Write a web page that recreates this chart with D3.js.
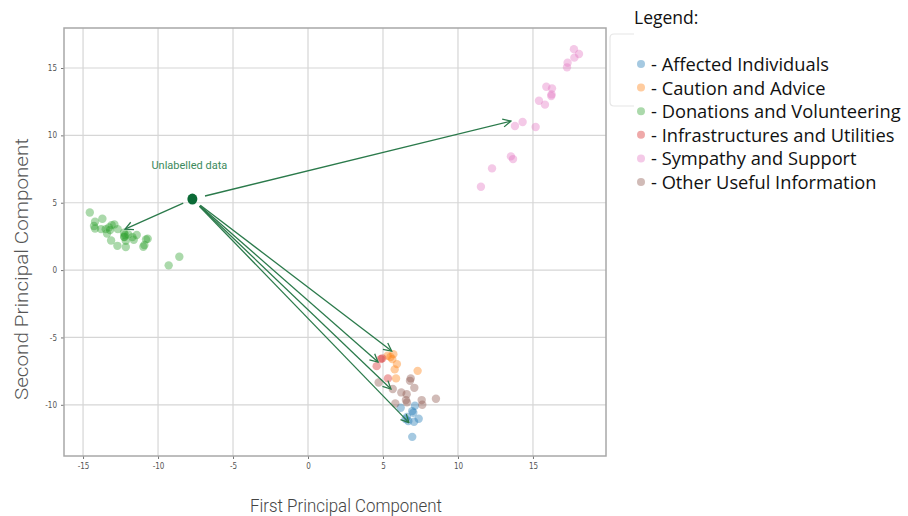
<!DOCTYPE html>
<meta charset="utf-8">
<head>
  <script src="https://d3js.org/d3.v7.min.js"></script>
  <style>
    body { margin: 0; background: #fff; }
  </style>
</head>
<body>
  <div id="my_dataviz"></div>
</body>
<script>
  // categories / legend
  const categories = ["Affected Individuals", "Caution and Advice", "Donations and Volunteering",
    "Infrastructures and Utilities", "Sympathy and Support", "Other Useful Information"];
  const cat_colors = ["#1f77b4", "#ff7f0e", "#2ca02c", "#d62728", "#e377c2", "#8c564b"];

  const x_ticks = [-15, -10, -5, 0, 5, 10, 15];
  const y_ticks = [-10, -5, 0, 5, 10, 15];

  // points per class, [PC1, PC2]
  const affected = [[6.18, -10.22], [7.13, -10.07], [6.95, -10.47], [7.02, -10.59], [6.51, -11.06],
    [6.69, -11.21], [7.38, -11.04], [7.07, -11.26], [6.95, -12.38], [6.6, -10.9]];
  const caution = [[5.31, -6.36], [5.69, -6.24], [5.62, -6.61], [5.93, -6.98], [5.78, -7.37],
    [7.31, -7.48], [5.87, -8.04], [5.5, -6.45]];
  const donations = [[-14.55, 4.28], [-13.71, 3.81], [-14.2, 3.59], [-14.27, 3.27], [-14.2, 3.09],
    [-13.8, 3.04], [-13.49, 3.04], [-13.27, 3.17], [-13.09, 3.34], [-12.91, 3.39], [-13.2, 2.97],
    [-12.69, 3.04], [-13.4, 2.72], [-12.27, 2.77], [-12.25, 2.47], [-11.98, 2.65], [-11.71, 2.45],
    [-11.42, 2.6], [-13.13, 2.2], [-12.15, 2.18], [-11.62, 2.25], [-12.71, 1.8], [-12.15, 1.71],
    [-10.8, 2.28], [-10.69, 2.33], [-10.98, 1.73], [-10.91, 1.86], [-8.58, 0.99], [-9.29, 0.35],
    [-12.2, 2.6], [-12.25, 2.45]];
  const infrastructure = [[4.85, -6.61], [4.58, -7.13], [5.33, -8.04], [4.95, -6.55]];
  const sympathy = [[17.73, 16.4], [18.07, 16.04], [17.76, 15.77], [17.31, 15.39], [17.27, 15.05],
    [15.89, 13.61], [16.27, 13.49], [16.24, 13.04], [16.22, 12.92], [15.4, 12.57], [15.8, 12.28],
    [14.31, 10.99], [13.8, 10.69], [15.18, 10.62], [13.53, 8.44], [13.67, 8.24], [12.27, 7.55],
    [11.53, 6.19]];
  const other_info = [[4.71, -8.34], [5.65, -8.83], [6.85, -8.04], [6.8, -8.22], [7.09, -8.74],
    [6.22, -9.08], [6.58, -9.21], [5.82, -9.9], [6.53, -9.65], [6.6, -9.82], [7.58, -9.65],
    [7.62, -10.0], [8.53, -9.55]];

  const unlabelled = [-7.71, 5.27];
  const arrow_targets = [[-12.2, 3.04], [13.53, 11.06], [5.58, -6.01], [4.67, -6.83], [5.53, -8.83], [6.73, -11.32]];

  const series = [affected, caution, donations, infrastructure, sympathy, other_info];

  const W = 908, H = 516;

  const svg = d3.select("#my_dataviz").append("svg")
    .attr("width", W).attr("height", H)
    .style("font-family", "Roboto, sans-serif");

  const x = d3.scaleLinear().domain([-16.27, 19.87]).range([64, 606]);
  const y = d3.scaleLinear().domain([-13.8, 17.97]).range([456, 28]);

  // grid
  svg.append("g").selectAll("line").data(x_ticks).enter().append("line")
    .attr("x1", d => x(d)).attr("x2", d => x(d)).attr("y1", 28).attr("y2", 456)
    .attr("stroke", "#d6d6d6").attr("stroke-width", 1.2);
  svg.append("g").selectAll("line").data(y_ticks).enter().append("line")
    .attr("y1", d => y(d)).attr("y2", d => y(d)).attr("x1", 64).attr("x2", 606)
    .attr("stroke", "#d6d6d6").attr("stroke-width", 1.2);

  // faint remnant of a box on the right
  svg.append("path")
    .attr("d", "M634,34 L614,34 Q610,34 610,38 L610,102 Q610,106 614,106 L634,106")
    .attr("fill", "none").attr("stroke", "#e6e6e6").attr("stroke-width", 1.2);

  // axes
  const xa = svg.append("g").attr("transform", "translate(0,456)")
    .call(d3.axisBottom(x).tickValues(x_ticks).tickSize(3).tickPadding(4));
  const ya = svg.append("g").attr("transform", "translate(64,0)")
    .call(d3.axisLeft(y).tickValues(y_ticks).tickSize(3).tickPadding(4));
  [xa, ya].forEach(a => {
    a.select(".domain").remove();
    a.selectAll(".tick line").attr("stroke", "#777");
    a.selectAll(".tick text").attr("fill", "#555").style("font-size", "8px")
      .style("font-family", "'DejaVu Sans Condensed', 'Roboto', sans-serif");
  });
  ya.selectAll(".tick text").text(d => d < 0 ? "-" + Math.abs(d) : d);
  xa.selectAll(".tick text").text(d => d < 0 ? "-" + Math.abs(d) : d);

  svg.append("rect").attr("x", 64).attr("y", 28).attr("width", 542).attr("height", 428)
    .attr("fill", "none").attr("stroke", "#a8a8a8").attr("stroke-width", 1.5);

  // scatter
  series.forEach((s, i) => {
    svg.append("g").selectAll("circle").data(s).enter().append("circle")
      .attr("cx", d => x(d[0])).attr("cy", d => y(d[1])).attr("r", 4.2)
      .attr("fill", cat_colors[i]).attr("fill-opacity", 0.4);
  });

  // arrows
  svg.append("defs").append("marker")
    .attr("id", "head").attr("markerUnits", "userSpaceOnUse")
    .attr("viewBox", "0 0 10 10").attr("refX", 9).attr("refY", 5)
    .attr("markerWidth", 10).attr("markerHeight", 10).attr("orient", "auto")
    .append("path").attr("d", "M1,1 L9,5 L1,9").attr("fill", "none")
    .attr("stroke", "#2b7a4b").attr("stroke-width", 1.3);

  const ux = x(unlabelled[0]), uy = y(unlabelled[1]);
  arrow_targets.forEach((t, i) => {
    const tx = x(t[0]), ty = y(t[1]);
    const dx = tx - ux, dy = ty - uy, len = Math.hypot(dx, dy);
    const gap = i == 1 ? 13 : 10;
    svg.append("line")
      .attr("x1", ux + dx / len * gap).attr("y1", uy + dy / len * gap)
      .attr("x2", tx).attr("y2", ty)
      .attr("stroke", "#2b7a4b").attr("stroke-width", 1.3)
      .attr("marker-end", "url(#head)");
  });

  svg.append("ellipse").attr("cx", ux).attr("cy", uy).attr("rx", 5).attr("ry", 5.5)
    .attr("fill", "#0b6a36");
  svg.append("text").attr("x", ux - 3).attr("y", uy - 30).attr("text-anchor", "middle")
    .attr("fill", "#3b8a5c").style("font-size", "11px")
    .style("font-family", "'Roboto', sans-serif")
    .text("Unlabelled data");

  // axis titles
  svg.append("text").attr("x", 346).attr("y", 512).attr("text-anchor", "middle")
    .attr("fill", "#444").style("font-size", "18px").style("font-weight", 300)
    .attr("textLength", 192).attr("lengthAdjust", "spacingAndGlyphs")
    .text("First Principal Component");
  svg.append("text").attr("transform", "translate(28,269) rotate(-90)")
    .attr("text-anchor", "middle").attr("fill", "#555")
    .style("font-size", "19px").style("font-weight", 300)
    .style("font-family", "Roboto, sans-serif")
    .attr("textLength", 262).attr("lengthAdjust", "spacingAndGlyphs")
    .text("Second Principal Component");

  // legend
  const lg = svg.append("g").style("font-family", "'Open Sans', Lato, sans-serif");
  lg.append("text").attr("x", 634).attr("y", 24).attr("fill", "#111")
    .style("font-size", "17.5px").text("Legend:");
  categories.forEach((c, i) => {
    const ly = 64 + i * 23.6;
    lg.append("circle").attr("cx", 641).attr("cy", ly).attr("r", 4)
      .attr("fill", cat_colors[i]).attr("fill-opacity", 0.4);
    lg.append("text").attr("x", 651).attr("y", ly + 7).attr("fill", "#111")
      .style("font-size", "18.3px").text("- " + c);
  });
</script>
